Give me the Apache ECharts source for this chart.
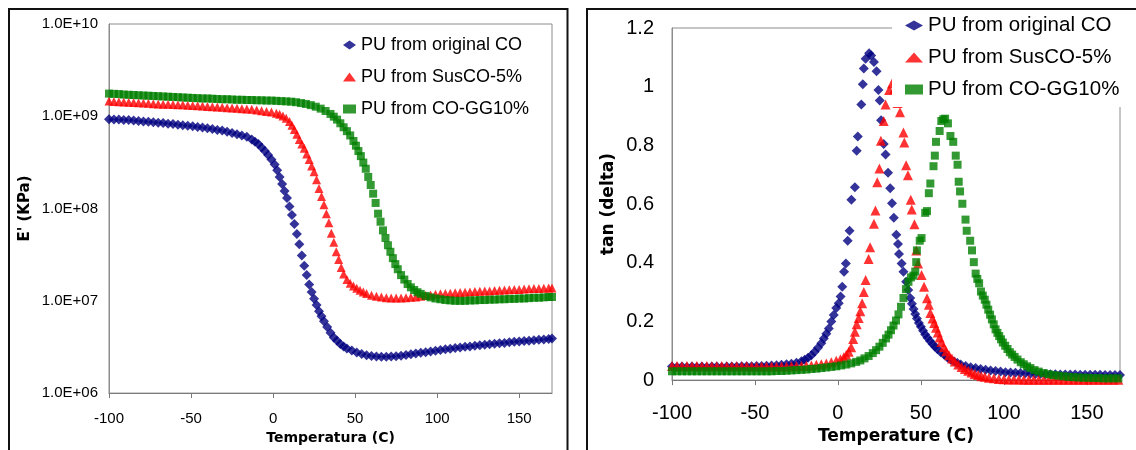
<!DOCTYPE html>
<html>
<head>
<meta charset="utf-8">
<script src="https://cdn.jsdelivr.net/npm/echarts@6/dist/echarts.min.js"></script>
<style>
html,body{margin:0;padding:0;background:#fff;}
#chart{width:1136px;height:450px;}
</style>
</head>
<body>
<div id="chart"></div>
<script>
// ---- Series names ----
const seriesNames = ['PU from original CO', 'PU from SusCO-5%', 'PU from CO-GG10%'];

// ---- Left panel: E' (KPa) vs temperature, [T, E'] ----
const origE = [[-100,9.3e8],[-97,9.2e8],[-94,9.25e8],[-91,9.1e8],[-88,9.1e8],[-85,9.0e8],[-82,8.9e8],[-79,8.8e8],[-76,8.7e8],[-73,8.6e8],[-70,8.5e8],[-67,8.45e8],[-64,8.3e8],[-61,8.25e8],[-58,8.1e8],[-55,8.0e8],[-52,7.9e8],[-49,7.8e8],[-46,7.65e8],[-43,7.55e8],[-40,7.4e8],[-37,7.3e8],[-34,7.1e8],[-31,7.0e8],[-28,6.8e8],[-25,6.6e8],[-22,6.4e8],[-19,6.2e8],[-16,6.0e8],[-13,5.6e8],[-11,5.3e8],[-9,5.0e8],[-7,4.6e8],[-5,4.2e8],[-3,3.8e8],[-1,3.4e8],[1,3.0e8],[2.5,2.6e8],[4,2.2e8],[5.5,1.85e8],[7,1.55e8],[8.5,1.3e8],[10,1.05e8],[11.5,8.5e7],[13,6.8e7],[14.5,5.3e7],[16,4.1e7],[17.5,3.1e7],[19,2.4e7],[20.5,1.9e7],[22,1.5e7],[23.5,1.25e7],[25,1.05e7],[26.5,9.0e6],[28,7.7e6],[29.5,6.8e6],[31,6.0e6],[33,5.2e6],[35,4.5e6],[37,4.0e6],[39,3.7e6],[41,3.4e6],[43,3.2e6],[45,3.05e6],[48,2.9e6],[51,2.75e6],[54,2.65e6],[57,2.57e6],[60,2.52e6],[63,2.49e6],[66,2.48e6],[69,2.48e6],[72,2.49e6],[75,2.51e6],[78,2.54e6],[81,2.58e6],[84,2.63e6],[87,2.68e6],[90,2.73e6],[93,2.78e6],[96,2.83e6],[99,2.88e6],[102,2.93e6],[105,2.98e6],[108,3.03e6],[111,3.08e6],[114,3.12e6],[117,3.17e6],[120,3.2e6],[123,3.25e6],[126,3.3e6],[129,3.34e6],[132,3.38e6],[135,3.43e6],[138,3.47e6],[141,3.5e6],[144,3.55e6],[147,3.6e6],[150,3.63e6],[153,3.66e6],[156,3.7e6],[159,3.74e6],[162,3.78e6],[165,3.82e6],[168,3.86e6],[170,3.9e6]];

const susE = [[-100,1.46e9],[-97,1.45e9],[-94,1.44e9],[-91,1.43e9],[-88,1.42e9],[-85,1.41e9],[-82,1.40e9],[-79,1.39e9],[-76,1.38e9],[-73,1.37e9],[-70,1.36e9],[-67,1.35e9],[-64,1.35e9],[-61,1.34e9],[-58,1.33e9],[-55,1.33e9],[-52,1.32e9],[-49,1.31e9],[-46,1.30e9],[-43,1.29e9],[-40,1.28e9],[-37,1.27e9],[-34,1.26e9],[-31,1.25e9],[-28,1.24e9],[-25,1.23e9],[-22,1.22e9],[-19,1.21e9],[-16,1.20e9],[-13,1.19e9],[-10,1.17e9],[-7,1.15e9],[-4,1.13e9],[-1,1.11e9],[2,1.08e9],[4,1.05e9],[6,1.01e9],[8,9.5e8],[10,8.8e8],[11.5,8.0e8],[13,7.2e8],[14.5,6.4e8],[16,5.6e8],[17.5,5.0e8],[19,4.5e8],[20.5,3.9e8],[22,3.4e8],[23.5,2.9e8],[25,2.5e8],[26.5,2.05e8],[28,1.65e8],[29.5,1.35e8],[31,1.1e8],[32.5,8.8e7],[34,7.0e7],[35.5,5.4e7],[37,4.3e7],[38.5,3.4e7],[40,2.8e7],[41.5,2.3e7],[43,1.95e7],[45,1.7e7],[47,1.55e7],[49,1.45e7],[51,1.37e7],[53,1.3e7],[55,1.25e7],[57,1.2e7],[60,1.15e7],[63,1.12e7],[66,1.1e7],[69,1.08e7],[72,1.07e7],[75,1.07e7],[78,1.07e7],[81,1.08e7],[84,1.09e7],[87,1.1e7],[90,1.12e7],[93,1.14e7],[96,1.16e7],[99,1.18e7],[102,1.19e7],[105,1.2e7],[108,1.21e7],[111,1.22e7],[114,1.23e7],[117,1.24e7],[120,1.25e7],[123,1.26e7],[126,1.27e7],[129,1.28e7],[132,1.28e7],[135,1.29e7],[138,1.3e7],[141,1.31e7],[144,1.32e7],[147,1.33e7],[150,1.33e7],[153,1.34e7],[156,1.35e7],[159,1.36e7],[162,1.36e7],[165,1.37e7],[168,1.38e7],[170,1.38e7]];

const ggE = [[-100,1.76e9],[-97,1.75e9],[-94,1.74e9],[-91,1.72e9],[-88,1.71e9],[-85,1.70e9],[-82,1.69e9],[-79,1.68e9],[-76,1.67e9],[-73,1.66e9],[-70,1.65e9],[-67,1.64e9],[-64,1.63e9],[-61,1.62e9],[-58,1.61e9],[-55,1.60e9],[-52,1.59e9],[-49,1.58e9],[-46,1.57e9],[-43,1.56e9],[-40,1.56e9],[-37,1.55e9],[-34,1.54e9],[-31,1.53e9],[-28,1.53e9],[-25,1.52e9],[-22,1.51e9],[-19,1.51e9],[-16,1.50e9],[-13,1.50e9],[-10,1.49e9],[-7,1.49e9],[-4,1.48e9],[-1,1.48e9],[2,1.47e9],[5,1.46e9],[8,1.45e9],[11,1.44e9],[14,1.42e9],[17,1.39e9],[20,1.36e9],[23,1.32e9],[26,1.27e9],[29,1.21e9],[32,1.14e9],[35,1.06e9],[37,9.9e8],[39,9.2e8],[41,8.4e8],[43,7.6e8],[45,6.9e8],[47,6.2e8],[49,5.4e8],[50.5,4.8e8],[52,4.2e8],[53.5,3.7e8],[55,3.15e8],[56.5,2.7e8],[58,2.2e8],[59.5,1.8e8],[61,1.45e8],[62.5,1.15e8],[64,8.8e7],[65.5,7.2e7],[67,5.8e7],[68.5,4.8e7],[70,4.0e7],[71.5,3.4e7],[73,2.9e7],[74.5,2.5e7],[76,2.2e7],[78,1.9e7],[80,1.7e7],[82,1.52e7],[84,1.4e7],[86,1.31e7],[88,1.24e7],[90,1.19e7],[93,1.13e7],[96,1.09e7],[99,1.06e7],[102,1.04e7],[105,1.02e7],[108,1.01e7],[111,1.0e7],[114,1.0e7],[117,1.0e7],[120,1.01e7],[123,1.01e7],[126,1.02e7],[129,1.02e7],[132,1.03e7],[135,1.03e7],[138,1.04e7],[141,1.04e7],[144,1.05e7],[147,1.05e7],[150,1.06e7],[153,1.06e7],[156,1.07e7],[159,1.08e7],[162,1.08e7],[165,1.09e7],[168,1.1e7],[170,1.1e7]];

// ---- Right panel: tan(delta) vs temperature, [T, tan delta] ----
const origTan = [[-100,0.046],[-97,0.045],[-94,0.046],[-91,0.045],[-88,0.046],[-85,0.045],[-82,0.046],[-79,0.045],[-76,0.046],[-73,0.046],[-70,0.045],[-67,0.046],[-64,0.046],[-61,0.046],[-58,0.047],[-55,0.047],[-52,0.047],[-49,0.048],[-46,0.048],[-43,0.049],[-40,0.05],[-37,0.051],[-34,0.052],[-31,0.054],[-28,0.056],[-25,0.059],[-22,0.064],[-20,0.069],[-18,0.076],[-16,0.085],[-14,0.097],[-12,0.11],[-10,0.126],[-8.5,0.142],[-7,0.158],[-5.5,0.176],[-4,0.2],[-2.5,0.222],[-1,0.246],[0.5,0.262],[1.6,0.285],[2.6,0.318],[3.7,0.369],[4.8,0.397],[5.9,0.475],[7,0.509],[8.1,0.615],[10.2,0.657],[11.3,0.782],[12,0.83],[14.1,0.939],[15,1.008],[15.6,1.062],[16.7,1.095],[18.8,1.114],[20,1.106],[21.7,1.084],[23.3,1.053],[24.4,0.989],[25.2,0.953],[26,0.886],[27.6,0.805],[28.7,0.769],[30.2,0.707],[31.5,0.654],[32.6,0.603],[33.7,0.553],[35.2,0.495],[36.2,0.464],[36.8,0.43],[38.4,0.397],[39.5,0.369],[41.1,0.335],[42.4,0.307],[43.6,0.28],[44.6,0.26],[45.6,0.242],[46.6,0.225],[47.6,0.21],[48.8,0.195],[50,0.182],[51.3,0.168],[52.6,0.155],[54,0.144],[55.5,0.133],[57,0.123],[58.5,0.114],[60,0.105],[62,0.095],[64,0.086],[66,0.077],[68,0.069],[70,0.063],[72,0.058],[74,0.053],[77,0.048],[80,0.044],[83,0.041],[86,0.038],[89,0.035],[92,0.033],[95,0.031],[98,0.029],[101,0.027],[104,0.026],[107,0.025],[110,0.024],[113,0.023],[116,0.022],[119,0.021],[122,0.021],[125,0.02],[128,0.02],[131,0.02],[134,0.019],[137,0.019],[140,0.019],[143,0.019],[146,0.018],[149,0.018],[152,0.018],[155,0.018],[158,0.018],[161,0.017],[164,0.017],[167,0.017],[170,0.017]];

const susTan = [[-100,0.048],[-97,0.048],[-94,0.047],[-91,0.048],[-88,0.047],[-85,0.048],[-82,0.047],[-79,0.048],[-76,0.047],[-73,0.047],[-70,0.048],[-67,0.047],[-64,0.047],[-61,0.047],[-58,0.047],[-55,0.047],[-52,0.046],[-49,0.046],[-46,0.046],[-43,0.046],[-40,0.046],[-37,0.046],[-34,0.046],[-31,0.046],[-28,0.047],[-25,0.047],[-22,0.048],[-19,0.049],[-16,0.05],[-13,0.052],[-10,0.054],[-7,0.057],[-4,0.061],[-1,0.066],[1.5,0.071],[3.5,0.078],[5,0.086],[6.5,0.097],[8,0.112],[9.2,0.14],[10.2,0.165],[11.3,0.19],[12.5,0.212],[13.5,0.235],[14.6,0.262],[15.6,0.3],[16.7,0.341],[18.5,0.413],[19.4,0.453],[21.7,0.533],[22.6,0.578],[23.7,0.674],[25,0.721],[25.9,0.816],[27.6,0.883],[28.7,0.939],[30.9,0.989],[32.6,1.011],[34.1,0.992],[35.9,0.944],[37.4,0.913],[39.5,0.844],[40,0.81],[41.1,0.732],[42.2,0.698],[43.9,0.615],[44.5,0.581],[46.1,0.531],[47.2,0.442],[48.3,0.397],[50.4,0.358],[51.9,0.318],[53.7,0.279],[54.8,0.257],[55.7,0.229],[57,0.21],[58,0.195],[59.1,0.178],[60.2,0.162],[61.3,0.145],[62.3,0.13],[63.8,0.113],[65.3,0.098],[67,0.085],[68.7,0.074],[70.5,0.063],[72.5,0.053],[74.5,0.045],[76.5,0.038],[78.5,0.032],[80.5,0.026],[82.5,0.021],[84.5,0.017],[86.5,0.013],[88.5,0.011],[91,0.008],[94,0.006],[97,0.004],[100,0.003],[103,0.002],[106,0.002],[109,0.002],[112,0.001],[115,0.001],[118,0.001],[121,0.001],[124,0.001],[127,0.001],[130,0.001],[133,0.001],[136,0.001],[139,0.001],[142,0.001],[145,0.001],[148,0.001],[151,0.001],[154,0.001],[157,0.001],[160,0.001],[163,0.001],[166,0.001],[169,0.001]];

const ggTan = [[-100,0.03],[-97,0.03],[-94,0.03],[-91,0.03],[-88,0.03],[-85,0.03],[-82,0.03],[-79,0.03],[-76,0.03],[-73,0.03],[-70,0.03],[-67,0.03],[-64,0.03],[-61,0.03],[-58,0.03],[-55,0.03],[-52,0.03],[-49,0.03],[-46,0.03],[-43,0.03],[-40,0.03],[-37,0.031],[-34,0.031],[-31,0.032],[-28,0.033],[-25,0.034],[-22,0.035],[-19,0.036],[-16,0.038],[-13,0.039],[-10,0.041],[-7,0.043],[-4,0.045],[-1,0.047],[2,0.05],[5,0.053],[8,0.057],[11,0.062],[13.5,0.067],[16,0.074],[18.5,0.082],[21,0.092],[23,0.102],[25,0.114],[27,0.127],[29,0.142],[30.5,0.155],[32,0.17],[33.5,0.186],[35,0.203],[36.5,0.224],[38,0.25],[39.5,0.28],[41,0.31],[42.5,0.335],[44,0.35],[45.5,0.356],[46.6,0.37],[47.2,0.402],[47.6,0.442],[49.3,0.475],[50.4,0.484],[52.6,0.57],[53.7,0.576],[54.8,0.637],[55.7,0.67],[57.6,0.729],[58.4,0.765],[59.1,0.812],[61.3,0.849],[62.3,0.883],[63.5,0.889],[64.6,0.891],[66.3,0.875],[67.8,0.832],[69.5,0.812],[71,0.765],[72.1,0.734],[72.8,0.676],[73.6,0.643],[75,0.601],[76.9,0.547],[77.6,0.509],[79.7,0.475],[80.8,0.442],[81.9,0.402],[83,0.363],[84,0.345],[85.1,0.33],[86.2,0.302],[87.3,0.288],[88.5,0.274],[89.5,0.257],[90.6,0.24],[91.7,0.223],[92.8,0.207],[93.9,0.19],[95,0.173],[96.1,0.161],[97.2,0.15],[98.3,0.139],[99.4,0.128],[100.8,0.117],[102.2,0.106],[103.6,0.095],[105,0.087],[106.5,0.079],[108.2,0.07],[110.2,0.061],[112,0.054],[114,0.047],[116,0.041],[118.5,0.034],[121,0.029],[124,0.024],[127,0.02],[130,0.017],[133,0.015],[136,0.013],[139,0.011],[142,0.01],[145,0.009],[148,0.008],[151,0.008],[154,0.007],[157,0.007],[160,0.006],[163,0.006],[166,0.006],[169,0.006]];

// ---- Axis texts ----
const leftXName = 'Temperatura (C)';
const leftYName = "E' (KPa)";
const rightXName = 'Temperature (C)';
const rightYName = 'tan (delta)';

const colors = ['#000080', '#FF0000', '#008000'];
const symbols = ['diamond', 'triangle', 'rect'];
const sans = '"Liberation Sans", Arial, sans-serif';
const boldFont = '"DejaVu Sans", sans-serif';

function logLabel(v) {
  const p = Math.round(Math.log10(v));
  return '1.0E+' + (p < 10 ? '0' + p : String(p));
}

const chart = echarts.init(document.getElementById('chart'), null, {renderer: 'canvas'});

const leftData = [origE, susE, ggE];
const rightData = [origTan, susTan, ggTan];
const leftSizes = [10, 9, 8];
const rightSizes = [10, 10, 8];

const series = [];
for (let i = 0; i < 3; i++) {
  series.push({
    type: 'scatter', name: seriesNames[i], xAxisIndex: 0, yAxisIndex: 0,
    data: leftData[i], symbol: symbols[i], symbolSize: leftSizes[i], symbolKeepAspect: true,
    itemStyle: {color: colors[i]}, z: 2 + i, animation: false
  });
}
for (let i = 0; i < 3; i++) {
  series.push({
    type: 'scatter', name: seriesNames[i], xAxisIndex: 1, yAxisIndex: 1,
    data: rightData[i], symbol: symbols[i], symbolSize: rightSizes[i], symbolKeepAspect: true,
    itemStyle: {color: colors[i]}, z: 2 + i, animation: false
  });
}

const option = {
  animation: false,
  backgroundColor: '#fff',
  grid: [
    {left: 109, top: 24, right: 584, bottom: 53, show: true, borderColor: '#8c8c8c', borderWidth: 1, backgroundColor: 'transparent'},
    {left: 672, top: 28, right: 16, bottom: 65, show: true, borderColor: '#8c8c8c', borderWidth: 1, backgroundColor: 'transparent'}
  ],
  legend: [
    {
      data: seriesNames, orient: 'vertical', left: 343, top: 36, padding: 0,
      itemGap: 14, itemWidth: 13, itemHeight: 9, selectedMode: false, symbolKeepAspect: true,
      textStyle: {fontFamily: sans, fontSize: 18, color: '#000'}
    },
    {
      data: seriesNames, orient: 'vertical', left: 892, top: 10, padding: [5, 12, 7, 13],
      itemGap: 11, itemWidth: 18, itemHeight: 10, selectedMode: false, symbolKeepAspect: true,
      backgroundColor: '#fff',
      textStyle: {fontFamily: sans, fontSize: 20.5, color: '#000'}
    }
  ],
  xAxis: [
    {
      gridIndex: 0, type: 'value', min: -100, max: 170, interval: 50,
      axisLine: {show: true, onZero: false, lineStyle: {color: '#7a7a7a', width: 1}},
      axisTick: {show: true, inside: false, length: 5, lineStyle: {color: '#7a7a7a'}},
      axisLabel: {fontFamily: sans, fontSize: 15, color: '#000', margin: 18, showMaxLabel: false},
      splitLine: {show: false},
      name: leftXName, nameLocation: 'middle', nameGap: 33,
      nameTextStyle: {fontFamily: boldFont, fontWeight: 'bold', fontSize: 14, color: '#000'}
    },
    {
      gridIndex: 1, type: 'value', min: -100, max: 170, interval: 50,
      axisLine: {show: true, onZero: false, lineStyle: {color: '#7a7a7a', width: 1}},
      axisTick: {show: true, inside: false, length: 5, lineStyle: {color: '#7a7a7a'}},
      axisLabel: {fontFamily: sans, fontSize: 20, color: '#000', margin: 23, showMaxLabel: false},
      splitLine: {show: false},
      name: rightXName, nameLocation: 'middle', nameGap: 42,
      nameTextStyle: {fontFamily: boldFont, fontWeight: 'bold', fontSize: 17, color: '#000'}
    }
  ],
  yAxis: [
    {
      gridIndex: 0, type: 'log', logBase: 10, min: 1e6, max: 1e10,
      axisLine: {show: true, onZero: false, lineStyle: {color: '#8c8c8c', width: 1}},
      axisTick: {show: false},
      axisLabel: {fontFamily: sans, fontSize: 15, color: '#000', margin: 11, formatter: logLabel},
      splitLine: {show: false},
      name: leftYName, nameLocation: 'middle', nameGap: 76,
      nameTextStyle: {fontFamily: boldFont, fontWeight: 'bold', fontSize: 15, color: '#000'}
    },
    {
      gridIndex: 1, type: 'value', min: 0, max: 1.2, interval: 0.2,
      axisLine: {show: true, onZero: false, lineStyle: {color: '#8c8c8c', width: 1}},
      axisTick: {show: false},
      axisLabel: {fontFamily: sans, fontSize: 20, color: '#000', margin: 18},
      splitLine: {show: false},
      name: rightYName, nameLocation: 'middle', nameGap: 55,
      nameTextStyle: {fontFamily: boldFont, fontWeight: 'bold', fontSize: 17, color: '#000'}
    }
  ],
  graphic: [
    {type: 'rect', z: 100, silent: true, shape: {x: 9, y: 9, width: 558.5, height: 470}, style: {fill: 'none', stroke: '#111', lineWidth: 2}},
    {type: 'rect', z: 100, silent: true, shape: {x: 587, y: 9, width: 580, height: 470}, style: {fill: 'none', stroke: '#111', lineWidth: 2}}
  ],
  series: series
};

chart.setOption(option);
</script>
</body>
</html>
